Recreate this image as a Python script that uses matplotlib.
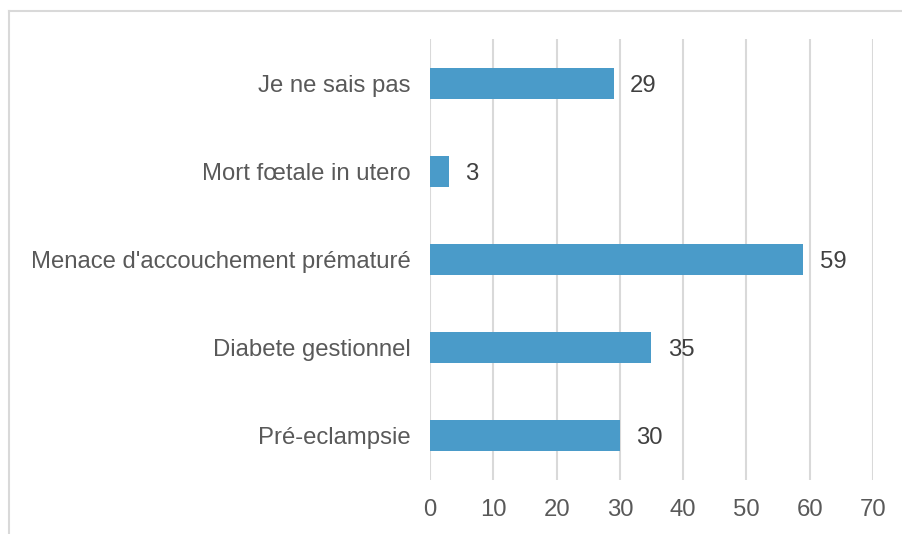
import matplotlib.pyplot as plt
from matplotlib.lines import Line2D

categories = ["Pré-eclampsie", "Diabete gestionnel", "Menace d'accouchement prématuré",
              "Mort fœtale in utero", "Je ne sais pas"]
values = [30, 35, 59, 3, 29]
xticks = [0, 10, 20, 30, 40, 50, 60, 70]

plt.rcParams['font.family'] = ['Liberation Sans', 'DejaVu Sans']

fig = plt.figure(figsize=(9.03, 5.34), dpi=100)
ax = fig.add_axes([430 / 903, 1 - 480 / 534, 443 / 903, 441 / 534])

bars = ax.barh(range(len(values)), values, height=0.35, color='#4a9bc9', zorder=3)
for i, v in enumerate(values):
    ax.text(v + 2.6, i, str(v), va='center_baseline', ha='left', fontsize=17.2, color='#404040')

ax.set_xlim(0, 70)
ax.set_ylim(-0.5, len(values) - 0.5)
ax.set_xticks(xticks)
ax.set_yticks(range(len(values)))
ax.set_yticklabels(categories)
ax.tick_params(axis='both', length=0, labelsize=17.2, colors='#595959')
ax.tick_params(axis='y', pad=14)
ax.tick_params(axis='x', pad=14)
ax.grid(axis='x', color='#d9d9d9', linewidth=1.5, zorder=0)
for s in ax.spines.values():
    s.set_visible(False)

# outer frame (only top and left visible in the picture)
fig.add_artist(Line2D([9.5 / 903, 1], [1 - 10.5 / 534, 1 - 10.5 / 534],
                      transform=fig.transFigure, color='#d9d9d9', linewidth=1.5))
fig.add_artist(Line2D([9.5 / 903, 9.5 / 903], [0, 1 - 10.5 / 534],
                      transform=fig.transFigure, color='#d9d9d9', linewidth=1.5))

plt.savefig('out.png', dpi=100)
